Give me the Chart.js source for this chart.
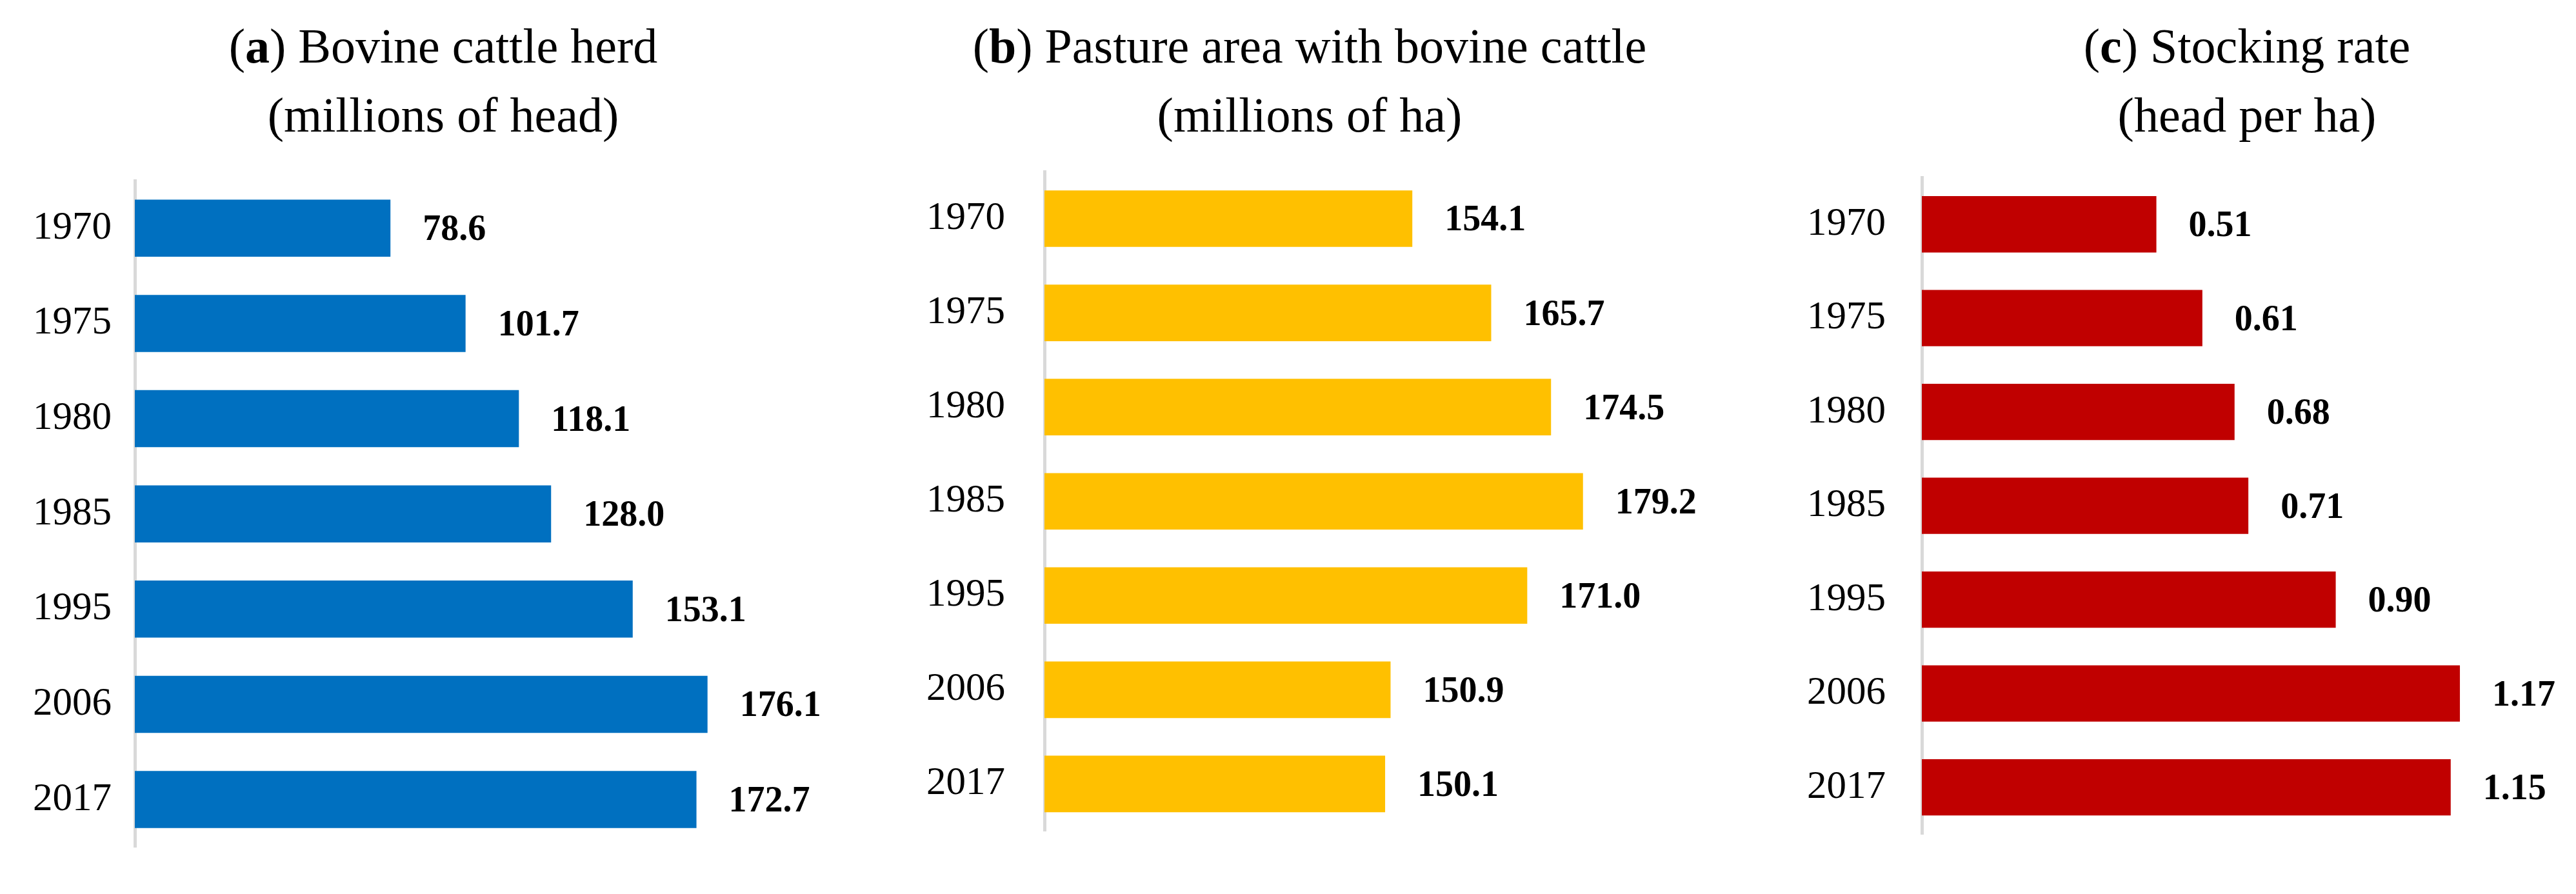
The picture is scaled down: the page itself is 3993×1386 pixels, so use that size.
<!DOCTYPE html>
<html><head><meta charset="utf-8">
<script src="https://cdn.jsdelivr.net/npm/chart.js@4"></script>
<style>
  body { margin:0; background:#fff; width:3993px; height:1386px; position:relative; overflow:hidden; font-family:"Liberation Serif", serif; }
  .panel { position:absolute; top:0; height:1386px; }
  .title { position:absolute; top:18px; text-align:center; font-size:76px; line-height:107px; color:#000; transform:translateX(-50%); white-space:nowrap; }
</style></head>
<body>
<div class="title" style="left:687px">(<b>a</b>) Bovine cattle herd<br>(millions of head)</div>
<div class="title" style="left:2030px">(<b>b</b>) Pasture area with bovine cattle<br>(millions of ha)</div>
<div class="title" style="left:3483px">(<b>c</b>) Stocking rate<br>(head per ha)</div>
<div class="panel" style="left:0;width:1340px"><canvas id="cA"></canvas></div>
<div class="panel" style="left:1340px;width:1360px"><canvas id="cB"></canvas></div>
<div class="panel" style="left:2700px;width:1293px"><canvas id="cC"></canvas></div>
<script>
const years = ['1970', '1975', '1980', '1985', '1995', '2006', '2017'];
const herd = [78.6, 101.7, 118.1, 128.0, 153.1, 176.1, 172.7];
const pasture = [154.1, 165.7, 174.5, 179.2, 171.0, 150.9, 150.1];
const stocking = [0.51, 0.61, 0.68, 0.71, 0.90, 1.17, 1.15];

// value labels to the right of each bar
const valueLabels = {
  id: 'valueLabels',
  afterDatasetsDraw(chart, args, opts) {
    const ctx = chart.ctx;
    const meta = chart.getDatasetMeta(0);
    ctx.save();
    ctx.font = 'bold 56px "Liberation Serif", serif';
    ctx.fillStyle = '#000';
    ctx.textBaseline = 'middle';
    meta.data.forEach((bar, i) => {
      const v = chart.data.datasets[0].data[i];
      ctx.fillText(v.toFixed(opts.digits), bar.x + 50, bar.y + 4);
    });
    ctx.restore();
  }
};

function makeChart(id, data, color, o) {
  new Chart(document.getElementById(id), {
    type: 'bar',
    data: { labels: years, datasets: [{ data, backgroundColor: color, barPercentage: 0.6, categoryPercentage: 1 }] },
    plugins: [valueLabels],
    options: {
      indexAxis: 'y',
      responsive: true,
      maintainAspectRatio: false,
      animation: false,
      layout: { padding: { top: o.top, bottom: o.bottom, right: o.right, left: 0 } },
      plugins: { legend: { display: false }, tooltip: { enabled: false }, valueLabels: { digits: o.digits } },
      scales: {
        x: { display: false, min: o.min, max: o.max },
        y: {
          afterFit(scale) { scale.width = o.yWidth; },
          grid: { display: false, drawTicks: false },
          border: { color: '#d9d9d9', width: 5 },
          ticks: { color: '#000', padding: o.pad, font: { family: '"Liberation Serif", serif', size: 61 } }
        }
      }
    }
  });
}

makeChart('cA', herd, '#0070C0', { min: 0, max: 220, yWidth: 209, top: 280, bottom: 37, right: 22, pad: 36, digits: 1 });
makeChart('cB', pasture, '#FFC000', { min: 100, max: 200, yWidth: 279, top: 266, bottom: 26, right: 27, pad: 61, digits: 1 });
makeChart('cC', stocking, '#C00000', { min: 0, max: 1.4, yWidth: 279, top: 275, bottom: 31, right: 16, pad: 56, digits: 2 });
</script>
</body></html>
